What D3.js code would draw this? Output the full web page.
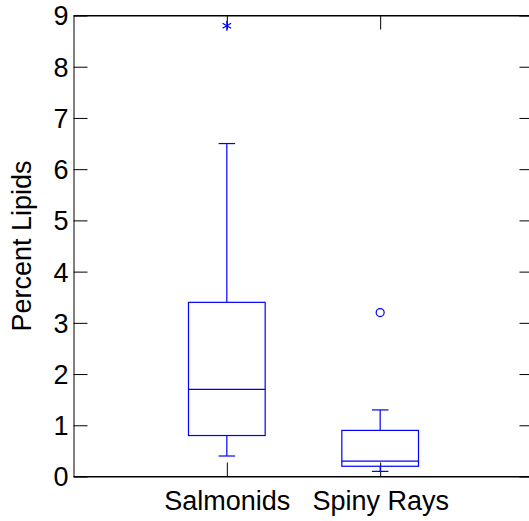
<!DOCTYPE html>
<html><head><meta charset="utf-8">
<script src="https://cdn.jsdelivr.net/npm/d3@7"></script>
<style>html,body{margin:0;padding:0;background:#fff;} svg{display:block;}</style>
</head><body>
<svg id="c" width="529" height="521"></svg>
<script>
const categories = ["Salmonids", "Spiny Rays"];
const lowerWhisker = [0.4, 0.1];
const q1 = [0.8, 0.2];
const median = [1.7, 0.3];
const q3 = [3.4, 0.9];
const upperWhisker = [6.5, 1.3];
const farOutliers = [[8.8], []];
const nearOutliers = [[], [3.2]];
const yTicks = [0,1,2,3,4,5,6,7,8,9];

const svg = d3.select("#c");
const font = "Liberation Sans, Arial, sans-serif";
const blue = "#0000ff";
const L = 73.5, R = 533.5, T = 15.5, B = 476.5;

const x = d3.scalePoint().domain(categories).range([L, R]).padding(1);
const y = d3.scaleLinear().domain([0, 9]).range([B, T]);

function styleAxis(g, showText) {
  g.select(".domain").attr("stroke", "#000").attr("stroke-width", 1);
  g.selectAll(".tick line").attr("stroke", "#000").attr("stroke-width", 1);
  g.selectAll(".tick text").attr("font-family", font).attr("font-size", 27).attr("fill", "#000");
  if (!showText) g.selectAll(".tick text").remove();
}

// left axis
const gl = svg.append("g").attr("transform", `translate(${L},0)`)
  .call(d3.axisLeft(y).tickValues(yTicks).tickFormat(d3.format("d")).tickSizeInner(-14).tickSizeOuter(0).tickPadding(5));
styleAxis(gl, true);
gl.selectAll(".tick text").attr("dy", "0.35em");
// right axis
const gr = svg.append("g").attr("transform", `translate(${R},0)`)
  .call(d3.axisRight(y).tickValues(yTicks).tickSizeInner(-14).tickSizeOuter(0));
styleAxis(gr, false);
// bottom axis
const gb = svg.append("g").attr("transform", `translate(0,${B})`)
  .call(d3.axisBottom(x).tickSizeInner(-14).tickSizeOuter(0).tickPadding(0));
styleAxis(gb, true);
gb.selectAll(".tick text").attr("y", 33).attr("dy", 0);
// top axis
const gt = svg.append("g").attr("transform", `translate(0,${T})`)
  .call(d3.axisTop(x).tickSizeInner(-14).tickSizeOuter(0));
styleAxis(gt, false);
// extend top/bottom frame lines to full width
svg.append("line").attr("x1", L).attr("x2", R).attr("y1", T).attr("y2", T).attr("stroke", "#000");
svg.append("line").attr("x1", L).attr("x2", R).attr("y1", B).attr("y2", B).attr("stroke", "#000");

// y label
svg.append("text")
  .attr("transform", `translate(31,${(T + B) / 2}) rotate(-90)`)
  .attr("text-anchor", "middle")
  .attr("font-family", font).attr("font-size", 27).attr("fill", "#000")
  .text("Percent Lipids");

// boxes
const unit = x.step();
const boxHalf = unit * 0.25;
const capHalf = unit * 0.054;
const sw = 1.2;
const g = svg.append("g").attr("stroke", blue).attr("stroke-width", sw).attr("fill", "none");

categories.forEach((c, i) => {
  const cx = x(c);
  // whiskers
  g.append("line").attr("x1", cx).attr("x2", cx).attr("y1", y(q3[i])).attr("y2", y(upperWhisker[i]));
  g.append("line").attr("x1", cx).attr("x2", cx).attr("y1", y(q1[i])).attr("y2", y(lowerWhisker[i]));
  g.append("line").attr("x1", cx - capHalf).attr("x2", cx + capHalf).attr("y1", y(upperWhisker[i])).attr("y2", y(upperWhisker[i]));
  g.append("line").attr("x1", cx - capHalf).attr("x2", cx + capHalf).attr("y1", y(lowerWhisker[i])).attr("y2", y(lowerWhisker[i]));
  // box
  g.append("rect").attr("x", cx - boxHalf).attr("width", 2 * boxHalf)
    .attr("y", y(q3[i])).attr("height", y(q1[i]) - y(q3[i]));
  // median
  g.append("line").attr("x1", cx - boxHalf).attr("x2", cx + boxHalf).attr("y1", y(median[i])).attr("y2", y(median[i]));
  // far outliers: asterisk
  farOutliers[i].forEach(v => {
    const px = cx, py = y(v), s = 5;
    g.append("line").attr("x1", px).attr("x2", px).attr("y1", py - s).attr("y2", py + s);
    g.append("line").attr("x1", px - s * 0.85).attr("x2", px + s * 0.85).attr("y1", py - s * 0.5).attr("y2", py + s * 0.5);
    g.append("line").attr("x1", px - s * 0.85).attr("x2", px + s * 0.85).attr("y1", py + s * 0.5).attr("y2", py - s * 0.5);
  });
  // near outliers: circle
  nearOutliers[i].forEach(v => {
    g.append("circle").attr("cx", cx).attr("cy", y(v)).attr("r", 4);
  });
});
</script>
</body></html>
